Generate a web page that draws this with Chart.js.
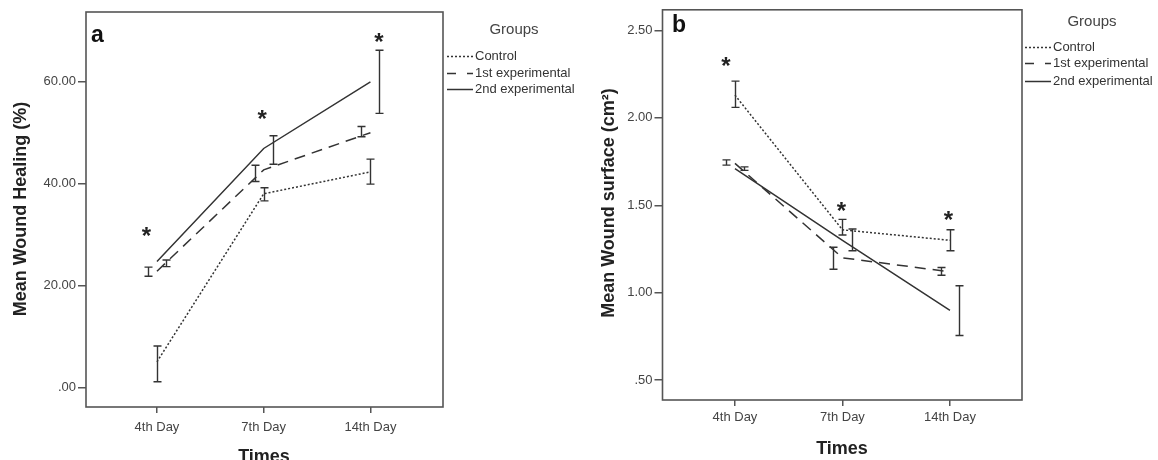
<!DOCTYPE html>
<html><head><meta charset="utf-8">
<script src="https://cdn.jsdelivr.net/npm/chart.js@4.4.1/dist/chart.umd.min.js"></script>
<style>
html,body{margin:0;padding:0;background:#fff;width:1158px;height:460px;overflow:hidden}
#wa{position:absolute;left:0;top:0;width:580px;height:460px}
#wb{position:absolute;left:580px;top:0;width:578px;height:460px}
</style></head><body>
<div id="wa"><canvas id="ca" width="580" height="460"></canvas></div>
<div id="wb"><canvas id="cb" width="578" height="460"></canvas></div>
<script>
// ---------- data ----------
const categories = ['4th Day', '7th Day', '14th Day'];
const groupNames = ['Control', '1st experimental', '2nd experimental'];
const legendTitle = 'Groups';
const xTitle = 'Times';

// Panel a: Mean Wound Healing (%)
const healControl = [5.0, 38.0, 42.3];
const heal1st     = [22.8, 42.7, 50.0];
const heal2nd     = [24.7, 46.9, 60.0];
const healControlLo = [1.1, 36.6, 39.9];
const healControlHi = [8.1, 39.2, 44.8];
const heal1stLo = [21.8, 40.4, 49.2];
const heal1stHi = [23.6, 43.6, 51.2];
const heal2ndLo = [23.7, 43.8, 53.8];
const heal2ndHi = [25.0, 49.4, 66.2];
const healStars = [30.9, 53.8, 69.0];
const healYTicks = [0, 20, 40, 60];
const healYTickLabels = ['.00', '20.00', '40.00', '60.00'];

// Panel b: Mean Wound surface (cm2)
const surfControl = [2.13, 1.36, 1.30];
const surf1st     = [1.74, 1.20, 1.12];
const surf2nd     = [1.71, 1.30, 0.90];
const surfControlLo = [2.06, 1.33, 1.24];
const surfControlHi = [2.21, 1.42, 1.36];
const surf1stLo = [1.73, 1.135, 1.10];
const surf1stHi = [1.76, 1.26, 1.145];
const surf2ndLo = [1.70, 1.24, 0.756];
const surf2ndHi = [1.72, 1.365, 1.04];
const surfStars = [2.33, 1.50, 1.45];
const surfYTicks = [0.5, 1.0, 1.5, 2.0, 2.5];
const surfYTickLabels = ['.50', '1.00', '1.50', '2.00', '2.50'];

// ---------- styles ----------
const INK = '#333333';
const FONT = '"Liberation Sans", Arial, sans-serif';
const dashes = [[2, 2], [11, 7], []];
const legendDashes = [[2, 2], [9, 11], []];

const extras = {
  id: 'extras',
  afterDatasetsDraw(chart, args, o) {
    const ctx = chart.ctx, xs = chart.scales.x, ys = chart.scales.y, ca = chart.chartArea;
    ctx.save();
    // error bars
    ctx.strokeStyle = INK; ctx.lineWidth = 1.4; ctx.setLineDash([]);
    o.errors.forEach(s => {
      s.lo.forEach((lo, i) => {
        const x = Math.round(xs.getPixelForValue(i + s.off)) + 0.5;
        const y1 = ys.getPixelForValue(lo), y2 = ys.getPixelForValue(s.hi[i]);
        ctx.beginPath();
        ctx.moveTo(x, y1); ctx.lineTo(x, y2);
        ctx.moveTo(x - 4, y1); ctx.lineTo(x + 4, y1);
        ctx.moveTo(x - 4, y2); ctx.lineTo(x + 4, y2);
        ctx.stroke();
      });
    });
    // significance stars
    ctx.fillStyle = '#222';
    ctx.font = 'bold 24px ' + FONT;
    ctx.textAlign = 'center'; ctx.textBaseline = 'alphabetic';
    o.stars.forEach((v, i) => {
      const x = xs.getPixelForValue(i + o.starOff[i]);
      const y = ys.getPixelForValue(v);
      ctx.fillText('*', x, y + 14);
    });
    // plot frame
    ctx.strokeStyle = '#555'; ctx.lineWidth = 1.6;
    ctx.strokeRect(ca.left, ca.top, ca.right - ca.left, ca.bottom - ca.top);
    // panel letter
    ctx.fillStyle = '#111'; ctx.font = 'bold 23px ' + FONT; ctx.textAlign = 'left';
    ctx.fillText(o.letter, o.letterX, o.letterY);
    // axis titles
    ctx.fillStyle = '#222'; ctx.font = 'bold 18px ' + FONT; ctx.textAlign = 'center';
    ctx.fillText(xTitle, o.xTitleX, o.xTitleY);
    ctx.save();
    ctx.translate(o.yTitleX, o.yTitleY); ctx.rotate(-Math.PI / 2);
    ctx.textBaseline = 'middle';
    ctx.fillText(o.yTitle, 0, 0);
    ctx.restore();
    // legend
    ctx.fillStyle = '#444'; ctx.font = '15px ' + FONT; ctx.textAlign = 'center'; ctx.textBaseline = 'middle';
    ctx.fillText(legendTitle, o.legX + 40, o.legTitleY);
    ctx.font = '13px ' + FONT; ctx.textAlign = 'left';
    groupNames.forEach((g, i) => {
      const y = o.legY[i];
      ctx.strokeStyle = INK; ctx.lineWidth = 1.5; ctx.setLineDash(legendDashes[i]);
      ctx.beginPath(); ctx.moveTo(o.legX - 27, y + 0.5); ctx.lineTo(o.legX - 1, y + 0.5); ctx.stroke();
      ctx.fillStyle = '#333';
      ctx.fillText(g, o.legX + 1, y);
    });
    ctx.restore();
  }
};

function makeChart(id, series, yMin, yMax, yTicks, yTickLabels, xMin, xMax, layout, ext) {
  const datasets = series.map((vals, k) => ({
    label: groupNames[k],
    data: categories.map((c, i) => ({ x: i, y: vals[i] })),
    borderColor: INK, borderWidth: 1.5, borderDash: dashes[k],
    pointRadius: 0, tension: 0, fill: false
  }));
  return new Chart(document.getElementById(id), {
    type: 'line',
    data: { datasets },
    options: {
      responsive: false, animation: false,
      layout: { padding: { left: 0, top: layout.top, right: layout.right, bottom: 0 } },
      plugins: { legend: { display: false }, tooltip: { enabled: false }, extras: ext },
      scales: {
        x: {
          type: 'linear', min: xMin, max: xMax,
          afterBuildTicks: s => { s.ticks = categories.map((c, i) => ({ value: i })); },
          afterFit: s => { s.height = layout.xh; },
          ticks: { callback: (v, i) => categories[i], color: '#444', font: { family: FONT, size: 13 }, padding: layout.xpad, maxRotation: 0, autoSkip: false },
          grid: { drawOnChartArea: false, drawTicks: true, tickLength: 6, color: '#555', lineWidth: 1.5 },
          border: { display: false }
        },
        y: {
          type: 'linear', min: yMin, max: yMax,
          afterBuildTicks: s => { s.ticks = yTicks.map(v => ({ value: v })); },
          afterFit: s => { s.width = layout.yw; },
          ticks: { callback: (v, i) => yTickLabels[i], color: '#444', font: { family: FONT, size: 13 }, padding: 2, autoSkip: false },
          grid: { drawOnChartArea: false, drawTicks: true, tickLength: 8, color: '#555', lineWidth: 1.5 },
          border: { display: false }
        }
      }
    },
    plugins: [extras]
  });
}

const OFF = 0.085;
makeChart('ca', [healControl, heal1st, heal2nd], -3.87, 73.7, healYTicks, healYTickLabels, -0.665, 2.68,
  { top: 12, right: 137, xh: 53, xpad: 7, yw: 86 },
  {
    errors: [
      { lo: healControlLo, hi: healControlHi, off: 0 },
      { lo: heal1stLo, hi: heal1stHi, off: -OFF },
      { lo: heal2ndLo, hi: heal2ndHi, off: OFF }
    ],
    stars: healStars, starOff: [-0.10, -0.015, 0.08],
    letter: 'a', letterX: 91, letterY: 42,
    xTitleX: 264, xTitleY: 462,
    yTitle: 'Mean Wound Healing (%)', yTitleX: 21, yTitleY: 209,
    legX: 474, legTitleY: 30, legY: [56, 73, 89]
  });

makeChart('cb', [surfControl, surf1st, surf2nd], 0.387, 2.618, surfYTicks, surfYTickLabels, -0.674, 2.67,
  { top: 4, right: 136, xh: 60, xpad: 4, yw: 82.5 },
  {
    errors: [
      { lo: surfControlLo, hi: surfControlHi, off: 0 },
      { lo: surf1stLo, hi: surf1stHi, off: -OFF },
      { lo: surf2ndLo, hi: surf2ndHi, off: OFF }
    ],
    stars: surfStars, starOff: [-0.085, -0.01, -0.015],
    letter: 'b', letterX: 92, letterY: 32,
    xTitleX: 262, xTitleY: 454,
    yTitle: 'Mean Wound surface (cm²)', yTitleX: 29, yTitleY: 203,
    legX: 472, legTitleY: 22, legY: [47, 63, 81]
  });
</script>
</body></html>
